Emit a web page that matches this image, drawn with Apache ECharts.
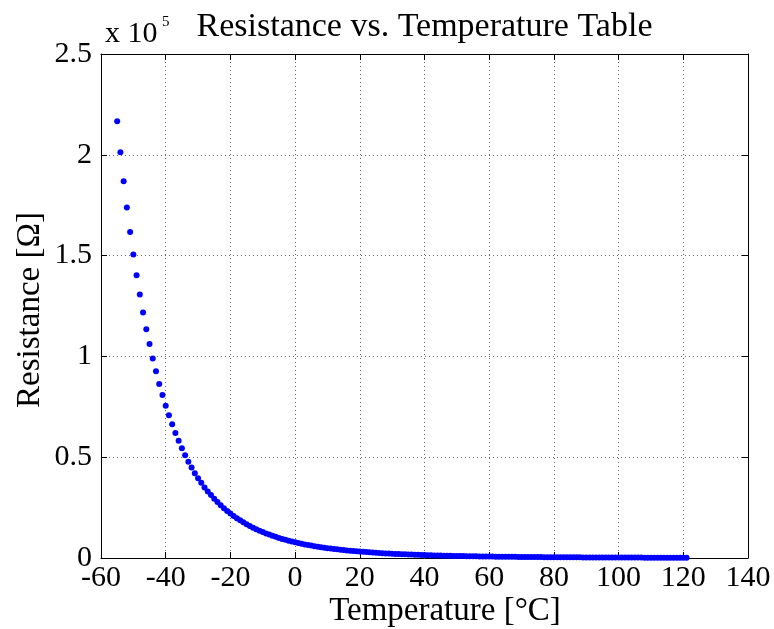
<!DOCTYPE html>
<html>
<head>
<meta charset="utf-8">
<script src="https://cdn.jsdelivr.net/npm/echarts@6/dist/echarts.min.js"></script>
<style>
html,body{margin:0;padding:0;background:#fff;}
#chart{width:774px;height:629px;}
</style>
</head>
<body>
<div id="chart"></div>
<script>
// ---- data ----
var firstTemp = -55;   // degrees C, one point per degree
var lastTemp = 121;
var resistance = [
  216600, 201300, 186900, 173900, 161700, 150600, 140200, 130700, 121800, 113500,
  106100, 99000, 92600, 86300, 80800, 75500, 70800, 66300, 62000, 58100,
  54500, 51000, 47800, 44900, 42100, 39600, 37300, 35000, 33000, 31200,
  29400, 27740, 26180, 24730, 23360, 22080, 20880, 19750, 18690, 17700,
  16760, 15890, 15060, 14280, 13550, 12860, 12210, 11600, 11020, 10480,
  9964, 9480, 9022, 8589, 8180, 7793, 7428, 7082, 6754, 6444,
  6150, 5871, 5607, 5356, 5119, 4893, 4679, 4476, 4283, 4099,
  3924, 3759, 3601, 3451, 3307, 3171, 3042, 2918, 2800, 2688,
  2581, 2479, 2381, 2289, 2200, 2115, 2034, 1957, 1883, 1812,
  1744, 1680, 1618, 1559, 1502, 1448, 1395, 1346, 1298, 1252,
  1208, 1166, 1126, 1087, 1050, 1014, 980, 947, 915, 885,
  856, 828, 801, 775, 750, 726, 703, 681, 659, 639,
  619, 600, 581, 563, 546, 530, 515, 500, 485, 471,
  457, 444, 431, 418, 406, 394, 383, 372, 362, 352,
  342, 333, 323, 314, 306, 297, 289, 282, 274, 267,
  260, 253, 247, 240, 234, 228, 222, 217, 211, 206,
  201, 196, 191, 186, 182, 177, 173, 169, 165, 161,
  157, 154, 150, 147, 143, 140, 136
];
var xTicks = [-60, -40, -20, 0, 20, 40, 60, 80, 100, 120, 140];
var yTickLabels = ['0', '0.5', '1', '1.5', '2', '2.5'];
var yScale = 100000;
var titleText = 'Resistance vs. Temperature Table';
var xName = 'Temperature [°C]';
var yName = 'Resistance [Ω]';

// ---- build ----
var points = [];
for (var t = firstTemp, i = 0; t <= lastTemp && i < resistance.length; t++, i++) {
  points.push([t, resistance[i]]);
}

var FONT = '"Liberation Serif", "DejaVu Serif", serif';
var G = {left: 101, right: 26, top: 54, bottom: 71};
var plotL = G.left, plotR = 774 - G.right, plotT = G.top, plotB = 629 - G.bottom;
var plotCX = (plotL + plotR) / 2, plotCY = (plotT + plotB) / 2;

var tickStyle = {show: true, inside: true, length: 6, lineStyle: {color: '#000', width: 1}};
var lineStyle = {show: true, onZero: false, lineStyle: {color: '#000', width: 1}};
var gridLine = {show: true, lineStyle: {color: '#666', width: 1, type: [1, 3]}};

var chart = echarts.init(document.getElementById('chart'), null, {renderer: 'canvas'});
chart.setOption({
  animation: false,
  backgroundColor: '#fff',
  grid: G,
  xAxis: [{
    type: 'value', min: xTicks[0], max: xTicks[xTicks.length - 1], interval: 20,
    position: 'bottom',
    axisLine: lineStyle, axisTick: tickStyle, splitLine: gridLine,
    axisLabel: {color: '#000', fontFamily: FONT, fontSize: 30, margin: 5}
  }, {
    type: 'value', min: xTicks[0], max: xTicks[xTicks.length - 1], interval: 20,
    position: 'top',
    axisLine: lineStyle, axisTick: tickStyle, splitLine: {show: false},
    axisLabel: {show: false}
  }],
  yAxis: [{
    type: 'value', min: 0, max: 250000, interval: 50000,
    position: 'left',
    axisLine: lineStyle, axisTick: tickStyle, splitLine: gridLine,
    axisLabel: {
      color: '#000', fontFamily: FONT, fontSize: 30, margin: 9,
      formatter: function (v) { return yTickLabels[Math.round(v / (yScale / 2))]; }
    }
  }, {
    type: 'value', min: 0, max: 250000, interval: 50000,
    position: 'right',
    axisLine: lineStyle, axisTick: tickStyle, splitLine: {show: false},
    axisLabel: {show: false}
  }],
  series: [{
    type: 'scatter',
    xAxisIndex: 0, yAxisIndex: 0,
    data: points,
    symbol: 'circle',
    symbolSize: 6,
    itemStyle: {color: '#0000ff', opacity: 1},
    silent: true
  }],
  graphic: [
    {type: 'text', x: plotCX, y: 27,
     style: {text: titleText, fill: '#000', font: '34px ' + FONT, textAlign: 'center', textVerticalAlign: 'middle'}},
    {type: 'text', x: 105, y: 34,
     style: {text: 'x 10', fill: '#000', font: '30px ' + FONT, textAlign: 'left', textVerticalAlign: 'middle'}},
    {type: 'text', x: 162, y: 22,
     style: {text: '5', fill: '#000', font: '15px ' + FONT, textAlign: 'left', textVerticalAlign: 'middle'}},
    {type: 'text', x: 445, y: 611,
     style: {text: xName, fill: '#000', font: '33px ' + FONT, textAlign: 'center', textVerticalAlign: 'middle'}},
    {type: 'text', x: 30, y: 310, rotation: Math.PI / 2,
     style: {text: yName, fill: '#000', font: '33px ' + FONT, textAlign: 'center', textVerticalAlign: 'middle'}}
  ]
});
</script>
</body>
</html>
